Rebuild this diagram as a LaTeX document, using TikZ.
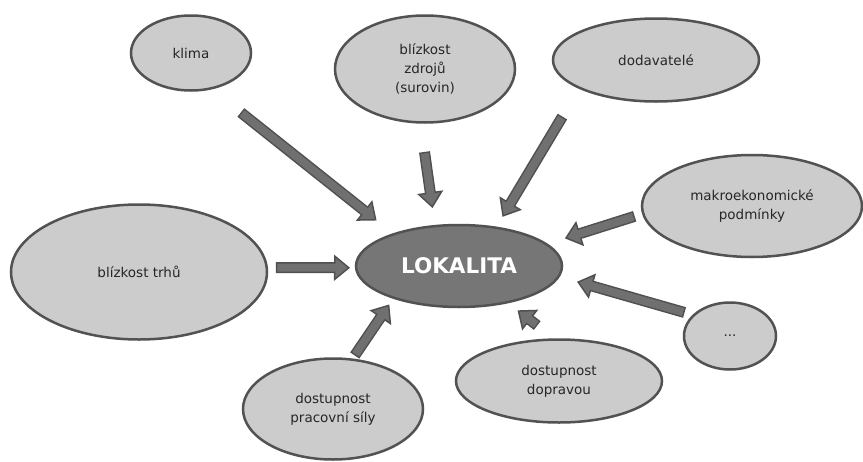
\documentclass[tikz,border=0pt]{standalone}
\usepackage{fontspec}
\setmainfont{DejaVu Sans}
\usetikzlibrary{shapes.geometric,arrows.meta}
\definecolor{ellfill}{RGB}{204,204,204}
\definecolor{edgegray}{RGB}{82,82,82}
\definecolor{lokfill}{RGB}{118,118,118}
\definecolor{arrowfill}{RGB}{112,112,112}
\definecolor{arrowedge}{RGB}{80,80,80}
\begin{document}
\begin{tikzpicture}[x=1pt,y=-1pt,
    faktor/.style={ellipse, draw=edgegray, line width=2.5pt, fill=ellfill,
      inner sep=0pt, outer sep=0pt, align=center, text=black!85,
      font=\fontsize{13.5pt}{19pt}\selectfont},
    lokalita/.style={faktor, fill=lokfill, text=white,
      font=\fontsize{21.5pt}{24pt}\selectfont\bfseries},
    sipka/.style 2 args={draw=arrowedge, line width=11pt,
      -{Triangle[length=16pt,width=26pt,line width=1.5pt,color=arrowedge,fill=arrowfill]},
      shorten <=#1, shorten >=#2,
      postaction={draw=arrowfill, line width=8pt, -,
        shorten <=#1+1.5pt, shorten >=#2+14pt}}]
  \path[use as bounding box, fill=white] (0,0) rectangle (863,461);
  \path
    (459,266) node[lokalita, minimum width=206pt, minimum height=82pt] (lok) {LOKALITA}
    (191,53) node[faktor, minimum width=120pt, minimum height=75pt] (klima) {klima}
    (425,69) node[faktor, minimum width=180pt, minimum height=107pt] (zdroje) {blízkost\\zdrojů\\(surovin)}
    (656,60) node[faktor, minimum width=206pt, minimum height=83pt] (dodav) {dodavatelé}
    (752,206) node[faktor, minimum width=220pt, minimum height=102pt] (makro) {makroekonomické\\podmínky}
    (139,272) node[faktor, minimum width=256pt, minimum height=135pt] (trhy) {blízkost trhů}
    (730,336) node[faktor, minimum width=92pt, minimum height=67pt] (dots) {...}
    (559,381) node[faktor, minimum width=206pt, minimum height=83pt] (doprava) {dostupnost\\dopravou}
    (333,409) node[faktor, minimum width=180pt, minimum height=101pt] (sila) {dostupnost\\pracovní síly};
  \begin{scope}
    \draw[sipka={38.6pt}{22.1pt}] (klima.-61) -- (lok.154);
    \draw[sipka={29.8pt}{18.3pt}] (zdroje.-95) -- (lok.121);
    \draw[sipka={33.5pt}{12.7pt}] (dodav.200) -- (lok.46);
    \draw[sipka={9pt}{19.5pt}] (makro.184) -- (lok.14);
    \draw[sipka={9.2pt}{6.1pt}] (trhy.2) -- (lok.181);
    \draw[sipka={9.8pt}{19.2pt}] (dots.150) -- (lok.-6);
    \draw[sipka={22.9pt}{13.2pt}] (doprava.95) -- (lok.-37);
    \draw[sipka={5pt}{8.1pt}] (sila.69) -- (lok.206);
  \end{scope}
\end{tikzpicture}
\end{document}
